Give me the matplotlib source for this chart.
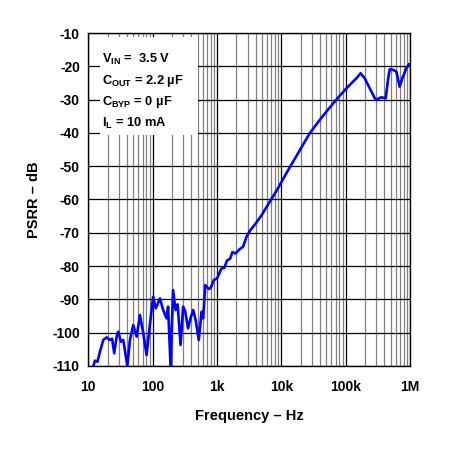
import numpy as np
import matplotlib
matplotlib.use("Agg")
import matplotlib.pyplot as plt
from matplotlib.patches import Rectangle
from matplotlib.ticker import FixedLocator, LogLocator, NullFormatter

plt.rcParams['font.family'] = ['Liberation Sans', 'DejaVu Sans']
plt.rcParams['font.weight'] = 'bold'
plt.rcParams['mathtext.fontset'] = 'custom'
plt.rcParams['mathtext.rm'] = 'Liberation Sans:bold'
plt.rcParams['mathtext.bf'] = 'Liberation Sans:bold'
plt.rcParams['mathtext.it'] = 'Liberation Sans:bold'

# PSRR curve
freq_hz = [12, 12.7, 13.9, 15.2, 17.1, 19.3, 21.7, 23.5, 25.3, 27.6, 29.2, 32.2, 35,
           40.5, 44.4, 50, 56.5, 63.5, 71.5, 80.6, 90.6, 102, 112, 130, 146, 165,
           174, 190, 208, 227, 245, 272, 298, 320, 356, 390, 428, 470, 522, 577,
           610, 660, 700, 760, 800, 900, 1000, 1170, 1300, 1440, 1600, 1740, 1950,
           2260, 2540, 2880, 3250, 4000, 4950, 6660, 8900, 12000, 17000, 27700,
           39600, 56000, 78000, 103000, 147000, 171000, 198000, 237000, 293000,
           360000, 420000, 455000, 484000, 540000, 615000, 692000, 760000, 879000, 966000]
psrr_db = [-110, -108.4, -108.7, -105.7, -102.2, -101.4, -102.2, -101.8, -106.2, -101.2,
           -99.7, -102.7, -102.2, -110, -102.2, -97.7, -101.2, -94.7, -100.1, -106.7,
           -97.7, -89.2, -92.7, -89.7, -93.2, -95.7, -92.2, -110, -87.2, -93.2, -91.5,
           -103.7, -92.2, -93.5, -98.7, -95.5, -93.2, -96.5, -102.2, -93.7, -95.7,
           -85.7, -86.3, -86.9, -86.5, -84.1, -83.8, -80.8, -80.5, -78.3, -77.8, -75.8,
           -76.2, -74.9, -74.2, -71.2, -69.4, -67.2, -64.7, -60.6, -56.6, -52.1, -47.1,
           -40.1, -36.1, -32.5, -29.2, -26.6, -23.6, -22.1, -23.6, -26.6, -30.1, -29.3,
           -29.6, -24.1, -20.9, -21.0, -21.6, -26.1, -23.6, -20.6, -19.4]

x_ticks = [10, 100, 1e3, 1e4, 1e5, 1e6]
x_tick_labels = ['10', '100', '1k', '10k', '100k', '1M']
y_ticks = list(range(-110, -9, 10))

fig = plt.figure(figsize=(4.55, 4.51), dpi=100)
ax = fig.add_axes([0.194, 0.1885, 0.707, 0.7383])

ax.set_xscale('log')
ax.set_xlim(10, 1e6)
ax.set_ylim(-110, -10)

ax.xaxis.set_major_locator(FixedLocator(x_ticks))
ax.set_xticklabels(x_tick_labels)
ax.xaxis.set_minor_locator(LogLocator(base=10, subs=np.arange(2, 10)))
ax.xaxis.set_minor_formatter(NullFormatter())
ax.set_yticks(y_ticks)
ax.set_yticklabels([str(v) for v in y_ticks])

ax.grid(which='major', axis='both', color='black', linewidth=0.9)
ax.grid(which='minor', axis='x', color='#808080', linewidth=0.9)
ax.set_axisbelow(True)
ax.tick_params(which='both', length=0, labelsize=10, pad=6)
ax.tick_params(axis='x', pad=10)
for lbl in ax.get_xticklabels() + ax.get_yticklabels():
    lbl.set_fontweight('bold')

for sp in ax.spines.values():
    sp.set_color('black')
    sp.set_linewidth(1.0)

ax.plot(freq_hz, psrr_db, color='#0000ff', linewidth=1.9, zorder=3)

ax.set_xlabel('Frequency – Hz', fontsize=10.5, fontweight='bold', labelpad=11)
ax.set_ylabel('PSRR – dB', fontsize=10.5, fontweight='bold', labelpad=8)

# white patch behind the conditions block
ax.add_patch(Rectangle((0.036, 0.694), 0.305, 0.294, transform=ax.transAxes,
                       facecolor='white', edgecolor='none', zorder=2))
legend_text = ("$\\mathbf{V_{IN}}$ =  3.5 V\n"
               "$\\mathbf{C_{OUT}}$ = 2.2 µF\n"
               "$\\mathbf{C_{BYP}}$ = 0 µF\n"
               "$\\mathbf{I_{L}}$ = 10 mA")
ax.text(0.042, 0.943, legend_text, transform=ax.transAxes, fontsize=9.3,
        fontweight='bold', va='top', ha='left', linespacing=1.5, zorder=4)

fig.savefig('out.png', dpi=100)
